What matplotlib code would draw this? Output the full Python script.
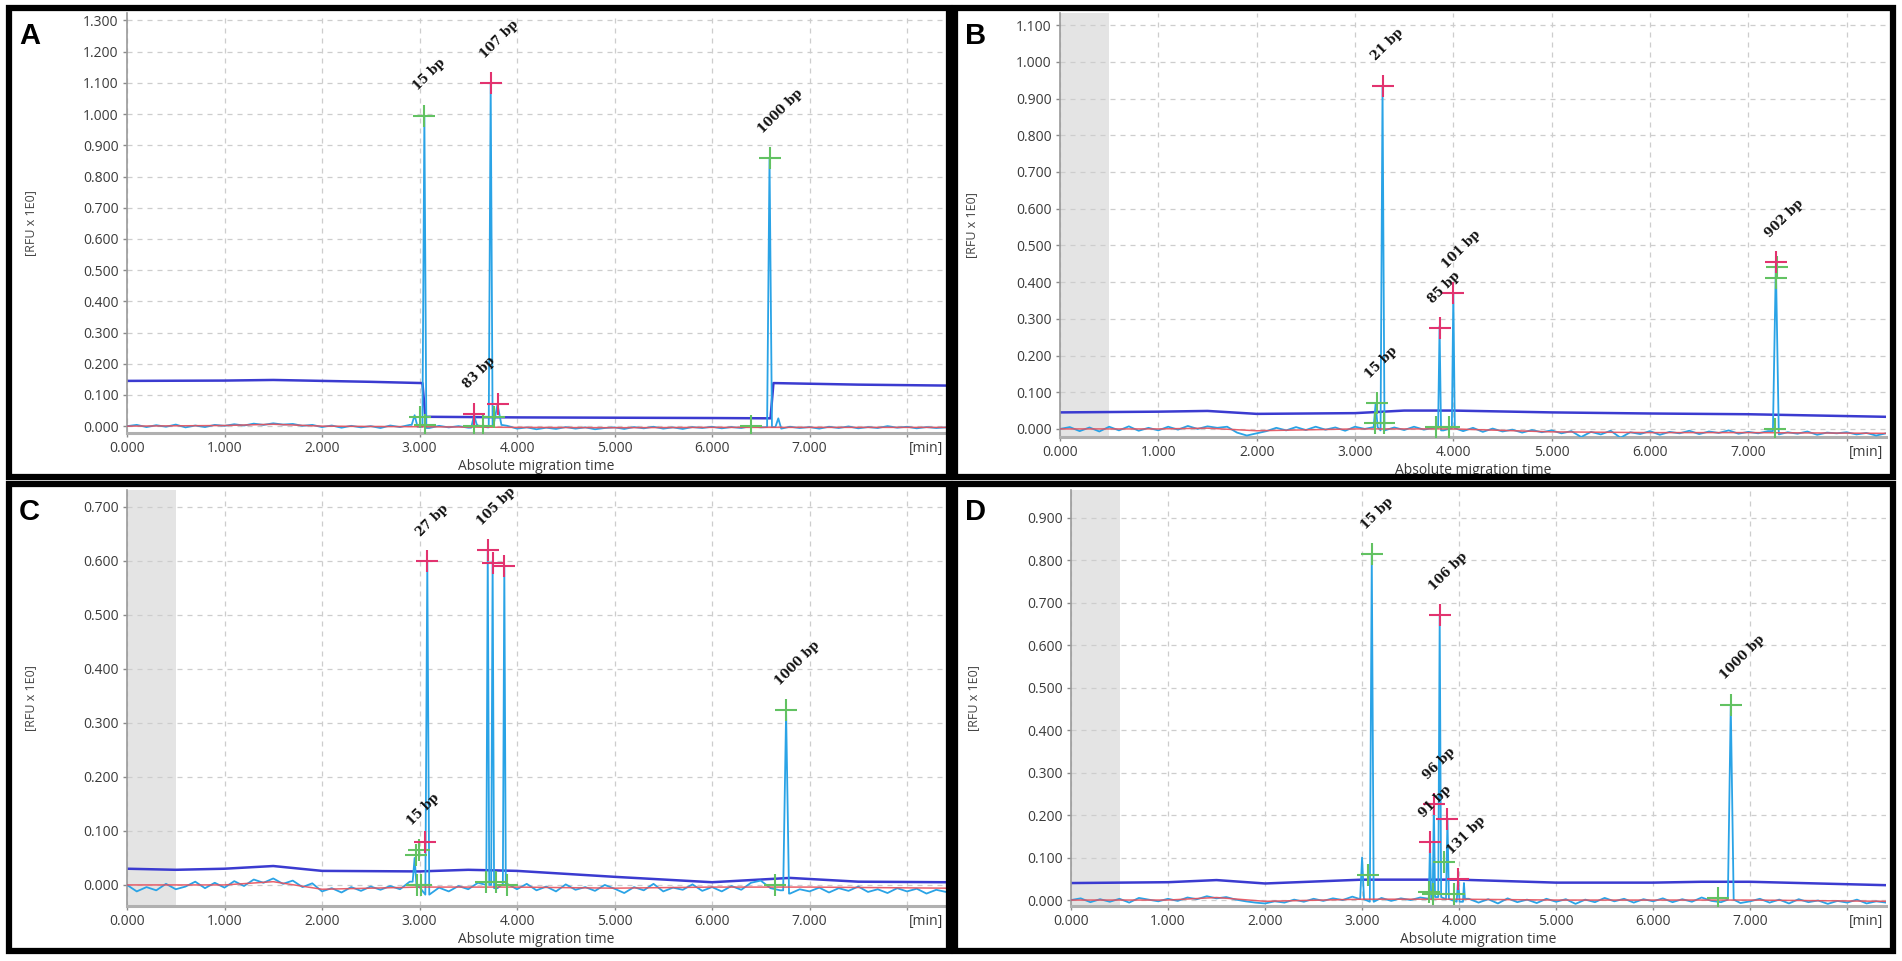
import numpy as np
import matplotlib
matplotlib.use("Agg")
import matplotlib.pyplot as plt
from matplotlib.patches import Rectangle

W, H = 1902, 961

# ---------------- data ----------------
# sample positions of the baseline traces (min)
base_x = np.round(np.arange(85) * 0.1, 1)

# panel A
a_base = [0.000, 0.004, -0.003, 0.003, -0.002, 0.005, -0.004, 0.002, -0.003, 0.004,
          0.001, 0.006, 0.002, 0.008, 0.004, 0.009, 0.005, 0.007, 0.001, 0.004,
          -0.003, 0.002, -0.005, 0.001, -0.004, 0.000, -0.006, 0.002, -0.003, 0.004,
          -0.002, -0.006, 0.001, -0.004, 0.000, -0.005, 0.002, -0.004, 0.004, 0.001,
          -0.008, -0.004, -0.010, -0.005, -0.009, -0.003, -0.008, -0.004, -0.010, -0.006,
          -0.004, -0.009, -0.003, -0.007, -0.002, -0.008, -0.004, -0.009, -0.003, -0.006,
          -0.002, -0.007, -0.003, -0.006, 0.000, -0.004, -0.003, -0.008, -0.002, -0.006,
          -0.003, -0.008, -0.002, -0.006, -0.001, -0.007, -0.003, -0.006, 0.000, -0.005,
          -0.002, -0.007, -0.003, -0.006, -0.004]
a_peak_x = [2.95, 3.05, 3.56, 3.73, 3.80, 6.59, 6.68]
a_peak_h = [0.035, 0.995, 0.035, 1.100, 0.070, 0.860, 0.025]
a_peak_w = [0.03, 0.02, 0.03, 0.02, 0.04, 0.025, 0.03]
a_thr_x = [0, 1.0, 1.5, 2.5, 3.03, 3.06, 4.0, 5.0, 6.0, 6.6, 6.63, 7.5, 8.4]
a_thr_y = [0.145, 0.146, 0.148, 0.142, 0.138, 0.030, 0.028, 0.027, 0.026, 0.025, 0.138, 0.133, 0.130]
a_red_x = [0, 1, 1.5, 2, 3, 4, 5, 6, 7, 8.4]
a_red_y = [0.000, 0.002, 0.006, 0.000, -0.002, -0.004, -0.005, -0.004, -0.004, -0.004]
a_pink_x = [3.73, 3.56, 3.81]
a_pink_y = [1.100, 0.040, 0.070]
a_green_x = [3.05, 6.59, 3.01, 3.06, 3.56, 3.65, 3.76, 6.40]
a_green_y = [0.995, 0.860, 0.030, 0.005, 0.000, 0.000, 0.030, 0.000]
a_lab = ["15 bp", "107 bp", "83 bp", "1000 bp"]
a_lab_x = [3.05, 3.73, 3.56, 6.59]
a_lab_y = [0.995, 1.100, 0.040, 0.860]
a_yticks = [0.0, 0.1, 0.2, 0.3, 0.4, 0.5, 0.6, 0.7, 0.8, 0.9, 1.0, 1.1, 1.2, 1.3]

# panel B
b_base = [0.000, 0.005, -0.006, 0.004, -0.007, 0.006, -0.004, 0.007, -0.005, 0.003,
          -0.004, 0.006, -0.002, 0.008, 0.000, 0.007, 0.003, 0.006, -0.010, -0.018,
          -0.012, -0.006, 0.003, -0.004, 0.005, -0.003, 0.006, -0.002, 0.004, -0.005,
          0.006, 0.000, 0.005, -0.004, 0.004, -0.003, 0.006, -0.002, 0.003, -0.004,
          0.002, -0.006, 0.003, -0.008, 0.001, -0.007, -0.002, -0.010, -0.003, -0.009,
          -0.004, -0.012, -0.006, -0.022, -0.008, -0.015, -0.005, -0.024, -0.009, -0.014,
          -0.006, -0.016, -0.008, -0.012, -0.005, -0.014, -0.007, -0.011, -0.004, -0.013,
          -0.008, -0.012, -0.006, -0.015, -0.009, -0.013, -0.007, -0.016, -0.010, -0.012,
          -0.009, -0.015, -0.011, -0.018, -0.012]
b_peak_x = [3.21, 3.28, 3.86, 4.00, 7.28]
b_peak_h = [0.070, 0.935, 0.280, 0.370, 0.450]
b_peak_w = [0.02, 0.02, 0.015, 0.015, 0.03]
b_thr_x = [0, 1, 1.5, 2, 3, 3.5, 4, 5, 6, 7, 8.4]
b_thr_y = [0.045, 0.047, 0.049, 0.041, 0.043, 0.050, 0.050, 0.045, 0.042, 0.040, 0.033]
b_red_x = [0, 1, 1.5, 2, 3, 4, 5, 6, 7, 8.4]
b_red_y = [0.000, 0.000, 0.002, -0.005, 0.000, 0.000, -0.008, -0.010, -0.010, -0.012]
b_pink_x = [3.28, 3.86, 4.00, 7.28]
b_pink_y = [0.935, 0.275, 0.370, 0.455]
b_green_x = [3.22, 3.20, 3.29, 3.82, 3.96, 7.29, 7.28, 7.27]
b_green_y = [0.070, 0.015, 0.015, 0.005, 0.005, 0.440, 0.410, 0.000]
b_lab = ["21 bp", "15 bp", "85 bp", "101 bp", "902 bp"]
b_lab_x = [3.28, 3.22, 3.86, 4.00, 7.28]
b_lab_y = [0.935, 0.070, 0.275, 0.370, 0.455]
b_yticks = [0.0, 0.1, 0.2, 0.3, 0.4, 0.5, 0.6, 0.7, 0.8, 0.9, 1.0, 1.1]

# panel C
c_base = [0.000, -0.012, -0.004, -0.010, 0.002, -0.008, -0.003, 0.006, -0.006, 0.004,
          -0.005, 0.007, -0.002, 0.010, 0.004, 0.012, 0.002, 0.008, -0.004, 0.003,
          -0.012, -0.006, -0.014, -0.004, -0.011, -0.003, -0.009, -0.002, -0.008, 0.006,
          -0.004, -0.018, -0.005, -0.012, -0.002, -0.008, 0.004, 0.000, -0.006, 0.002,
          -0.008, 0.002, -0.010, -0.003, -0.012, 0.001, -0.009, -0.004, -0.011, 0.000,
          -0.007, -0.015, -0.004, -0.010, 0.002, -0.012, -0.005, -0.009, 0.001, -0.011,
          -0.004, -0.012, -0.002, -0.009, 0.004, 0.008, -0.006, -0.010, -0.016, -0.008,
          -0.012, -0.005, -0.014, -0.006, -0.011, -0.003, -0.013, -0.008, -0.015, -0.006,
          -0.012, -0.007, -0.016, -0.009, -0.013]
c_peak_x = [2.95, 3.08, 3.70, 3.75, 3.87, 6.76]
c_peak_h = [0.050, 0.600, 0.620, 0.600, 0.590, 0.320]
c_peak_w = [0.02, 0.02, 0.015, 0.015, 0.015, 0.03]
c_thr_x = [0, 0.5, 1, 1.5, 2, 3, 3.5, 4, 5, 6, 6.8, 7.5, 8.4]
c_thr_y = [0.030, 0.028, 0.030, 0.035, 0.026, 0.025, 0.028, 0.026, 0.015, 0.005, 0.013, 0.006, 0.005]
c_red_x = [0, 1, 1.5, 2, 3, 4, 5, 6, 7, 8.4]
c_red_y = [0.000, 0.000, 0.006, -0.008, -0.004, -0.004, -0.006, -0.004, -0.004, -0.006]
c_pink_x = [3.08, 3.06, 3.70, 3.75, 3.87]
c_pink_y = [0.600, 0.080, 0.620, 0.595, 0.590]
c_green_x = [2.96, 2.99, 2.97, 3.02, 3.68, 3.78, 3.90, 6.76, 6.65]
c_green_y = [0.055, 0.065, 0.000, 0.000, 0.005, 0.005, 0.000, 0.323, 0.000]
c_lab = ["27 bp", "105 bp", "15 bp", "1000 bp"]
c_lab_x = [3.08, 3.70, 2.99, 6.76]
c_lab_y = [0.600, 0.620, 0.065, 0.323]
c_yticks = [0.0, 0.1, 0.2, 0.3, 0.4, 0.5, 0.6, 0.7]

# panel D
d_base = [0.000, 0.004, -0.005, 0.002, -0.004, 0.003, -0.006, 0.005, 0.001, -0.003,
          0.003, -0.002, 0.006, 0.002, 0.009, 0.004, 0.007, 0.001, -0.003, -0.006,
          -0.008, -0.003, -0.006, 0.001, -0.004, 0.003, -0.002, 0.004, 0.000, 0.008,
          0.002, -0.004, 0.005, -0.002, 0.004, 0.000, 0.006, 0.003, 0.007, 0.002,
          -0.004, 0.003, -0.006, 0.002, -0.008, 0.004, -0.005, 0.001, -0.007, 0.003,
          -0.004, 0.002, -0.009, 0.001, -0.005, 0.005, -0.003, 0.003, -0.006, 0.002,
          -0.003, 0.004, -0.005, 0.002, -0.004, 0.006, -0.002, -0.005, 0.001, -0.007,
          -0.003, 0.003, -0.006, 0.001, -0.008, 0.002, -0.005, -0.001, -0.009, -0.002,
          -0.006, 0.001, -0.008, -0.003, -0.006]
d_peak_x = [3.00, 3.10, 3.70, 3.74, 3.80, 3.88, 3.99, 4.05, 6.80]
d_peak_h = [0.100, 0.815, 0.135, 0.230, 0.670, 0.190, 0.050, 0.040, 0.460]
d_peak_w = [0.02, 0.02, 0.012, 0.012, 0.015, 0.015, 0.015, 0.01, 0.03]
d_thr_x = [0, 1, 1.5, 2, 3, 4, 5, 6, 6.5, 7, 8.4]
d_thr_y = [0.040, 0.042, 0.047, 0.039, 0.048, 0.048, 0.041, 0.041, 0.043, 0.043, 0.035]
d_red_x = [0, 1, 1.5, 2, 3, 4, 5, 6, 7, 8.4]
d_red_y = [0.000, 0.000, 0.006, -0.003, 0.002, 0.002, 0.000, 0.000, 0.000, -0.003]
d_pink_x = [3.80, 3.70, 3.74, 3.88, 3.99]
d_pink_y = [0.670, 0.136, 0.225, 0.190, 0.050]
d_green_x = [3.10, 3.06, 3.84, 3.69, 3.73, 3.95, 6.80, 6.67]
d_green_y = [0.815, 0.060, 0.090, 0.020, 0.015, 0.015, 0.460, 0.005]
d_lab = ["15 bp", "106 bp", "96 bp", "91 bp", "131 bp", "1000 bp"]
d_lab_x = [3.10, 3.80, 3.74, 3.70, 3.99, 6.80]
d_lab_y = [0.815, 0.670, 0.225, 0.136, 0.050, 0.460]
d_yticks = [0.0, 0.1, 0.2, 0.3, 0.4, 0.5, 0.6, 0.7, 0.8, 0.9]

x_ticks = [0, 1, 2, 3, 4, 5, 6, 7, 8]
x_ticklabels = ["0.000", "1.000", "2.000", "3.000", "4.000", "5.000", "6.000", "7.000", ""]

# ---------------- styling / layout ----------------
TRACE = "#2aa3e6"
THR = "#3b3bd0"
RED = "#e6505c"
PINK = "#e2336f"
GREEN = "#62c262"
TICKC = "#3a3a3a"
FONT = ["Open Sans", "DejaVu Sans"]

plt.rcParams["font.family"] = FONT

fig = plt.figure(figsize=(W / 100, H / 100), dpi=100)


def px_rect(l, t, r, b):
    return [l / W, 1 - b / H, (r - l) / W, (b - t) / H]


def build_trace(base, px, ph, pw):
    base = np.asarray(base, float)
    keep = np.ones(len(base_x), bool)
    for c, w in zip(px, pw):
        keep &= ~((base_x > c - w) & (base_x < c + w))
    pts = [(x, y) for x, y, k in zip(base_x, base, keep) if k]
    for c, h, w in zip(px, ph, pw):
        b0 = base[int(round((c - w) * 10))]
        b1 = base[int(round((c + w) * 10))]
        pts += [(c - w, b0), (c, h), (c + w, b1)]
    pts.sort()
    arr = np.array(pts)
    return arr[:, 0], arr[:, 1]


panels = [
    dict(letter="A", rect=(127, 13, 946, 433), box=(9, 8, 949, 477), ylim=(-0.022, 1.324),
         ylab_x=31, shade=False, base=a_base, px=a_peak_x, ph=a_peak_h, pw=a_peak_w,
         tx=a_thr_x, ty=a_thr_y, rx=a_red_x, ry=a_red_y, pkx=a_pink_x, pky=a_pink_y,
         gx=a_green_x, gy=a_green_y, lab=a_lab, lx=a_lab_x, ly=a_lab_y, yt=a_yticks),
    dict(letter="B", rect=(1060, 13, 1886, 437), box=(955, 8, 1893, 477), ylim=(-0.022, 1.133),
         ylab_x=972, shade=True, base=b_base, px=b_peak_x, ph=b_peak_h, pw=b_peak_w,
         tx=b_thr_x, ty=b_thr_y, rx=b_red_x, ry=b_red_y, pkx=b_pink_x, pky=b_pink_y,
         gx=b_green_x, gy=b_green_y, lab=b_lab, lx=b_lab_x, ly=b_lab_y, yt=b_yticks),
    dict(letter="C", rect=(127, 490, 946, 906), box=(9, 484, 949, 951), ylim=(-0.039, 0.731),
         ylab_x=31, shade=True, base=c_base, px=c_peak_x, ph=c_peak_h, pw=c_peak_w,
         tx=c_thr_x, ty=c_thr_y, rx=c_red_x, ry=c_red_y, pkx=c_pink_x, pky=c_pink_y,
         gx=c_green_x, gy=c_green_y, lab=c_lab, lx=c_lab_x, ly=c_lab_y, yt=c_yticks),
    dict(letter="D", rect=(1071, 490, 1886, 906), box=(955, 484, 1893, 951), ylim=(-0.014, 0.965),
         ylab_x=974, shade=True, base=d_base, px=d_peak_x, ph=d_peak_h, pw=d_peak_w,
         tx=d_thr_x, ty=d_thr_y, rx=d_red_x, ry=d_red_y, pkx=d_pink_x, pky=d_pink_y,
         gx=d_green_x, gy=d_green_y, lab=d_lab, lx=d_lab_x, ly=d_lab_y, yt=d_yticks),
]

for p in panels:
    l, t, r, b = p["rect"]
    ax = fig.add_axes(px_rect(l, t, r, b))
    ax.set_xlim(0, 8.4)
    ax.set_ylim(*p["ylim"])
    ax.set_facecolor("white")
    ax.set_axisbelow(True)
    ax.grid(True, ls=(0, (4, 4)), color="#cdcdcd", lw=0.9)
    if p["shade"]:
        ax.axvspan(0, 0.5, color="#e4e4e4", zorder=0.5, lw=0)

    ax.plot(p["tx"], p["ty"], color=THR, lw=1.8, zorder=2)
    tx_, ty_ = build_trace(p["base"], p["px"], p["ph"], p["pw"])
    ax.plot(tx_, ty_, color=TRACE, lw=1.3, zorder=3)
    ax.plot(p["rx"], p["ry"], color=RED, lw=1.1, zorder=4, alpha=0.9)

    ax.plot(p["gx"], p["gy"], "+", color=GREEN, ms=16, mew=1.5, zorder=5, ls="none")
    ax.plot(p["pkx"], p["pky"], "+", color=PINK, ms=16, mew=1.5, zorder=6, ls="none")

    for s, x, y in zip(p["lab"], p["lx"], p["ly"]):
        ax.annotate(s, xy=(x, y), xytext=(-3, 16), textcoords="offset points",
                    rotation=45, rotation_mode="anchor", ha="left", va="bottom",
                    fontsize=9, fontweight="bold", family=["DejaVu Serif"],
                    color="#111111", zorder=7)

    ax.set_xticks(x_ticks)
    ax.set_xticklabels(x_ticklabels)
    ax.set_yticks(p["yt"])
    ax.set_yticklabels([f"{v:.3f}" for v in p["yt"]])
    ax.tick_params(axis="both", length=3, width=1, color="#8a8a8a", labelsize=10,
                   labelcolor=TICKC, pad=3)
    for side in ("top", "right"):
        ax.spines[side].set_visible(False)
    ax.spines["left"].set_color("#9a9a9a")
    ax.spines["left"].set_linewidth(1.2)
    ax.spines["bottom"].set_color("#b0b0b0")
    ax.spines["bottom"].set_linewidth(2.2)

    ax.annotate("[min]", xy=(1, 0), xycoords="axes fraction", xytext=(-2, -6),
                textcoords="offset points", ha="right", va="top", fontsize=10, color=TICKC)
    ax.set_xlabel("Absolute migration time", fontsize=10, color=TICKC, labelpad=2)

    fig.text(p["ylab_x"] / W, 1 - ((t + b) / 2) / H, "[RFU x 1E0]", rotation=90,
             ha="center", va="center", fontsize=9, color="#444444")

    bl, bt, br, bb = p["box"]
    fig.patches.append(Rectangle((bl / W, 1 - bb / H), (br - bl) / W, (bb - bt) / H,
                                 transform=fig.transFigure, fill=False, ec="black",
                                 lw=4.5, zorder=10))
    fig.text((bl + 10) / W, 1 - (bt + 14) / H, p["letter"], ha="left", va="top",
             fontsize=21, fontweight="bold", family=["Liberation Sans", "DejaVu Sans"],
             color="black")

fig.savefig("out.png", dpi=100, facecolor="white")
